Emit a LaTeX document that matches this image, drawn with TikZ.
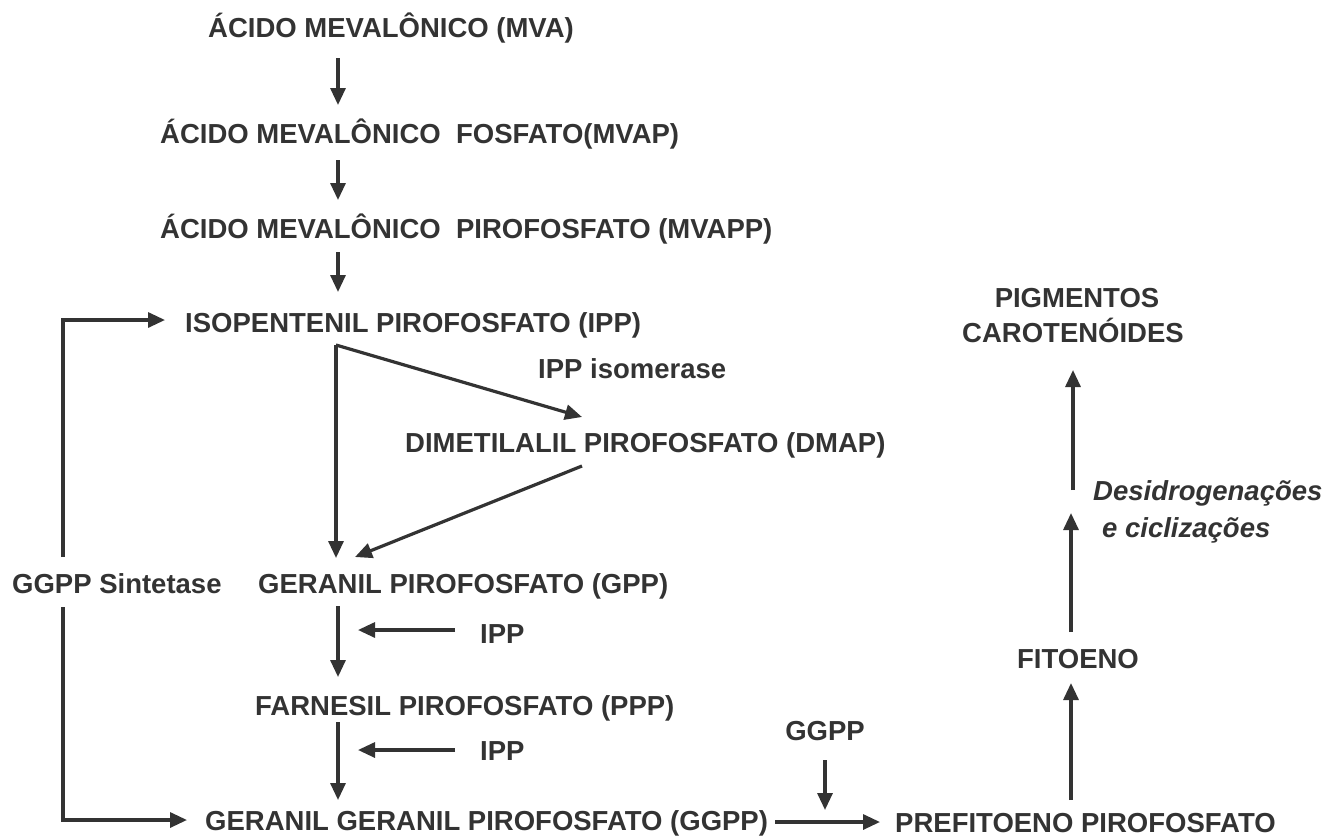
\documentclass[tikz,border=0pt]{standalone}
\usepackage{fontspec}
\setmainfont{Liberation Sans}
\usetikzlibrary{arrows.meta}
\definecolor{ink}{HTML}{333333}
\begin{document}
\begin{tikzpicture}[x=1pt,y=-1pt,
  lbl/.style={anchor=base west,inner sep=0pt,text=ink,font=\fontsize{27.5}{33}\selectfont\bfseries},
  clbl/.style={lbl,anchor=base},
  ilbl/.style={lbl,font=\fontsize{27.5}{33}\selectfont\bfseries\itshape},
  arr/.style={draw=ink,line width=3.2pt,-{Triangle[length=17pt,width=15pt]}},
  ln/.style={draw=ink,line width=3.2pt}]
\useasboundingbox (0,0) rectangle (1336,839);
% texts
\node[lbl] (mva) at (208,37) {ÁCIDO MEVALÔNICO (MVA)};
\node[lbl] (mvap) at (160,143) {ÁCIDO MEVALÔNICO\ \ FOSFATO(MVAP)};
\node[lbl] (mvapp) at (160,238) {ÁCIDO MEVALÔNICO\ \ PIROFOSFATO (MVAPP)};
\node[lbl] (ipp) at (185,332) {ISOPENTENIL PIROFOSFATO (IPP)};
\node[lbl] (iso) at (538,378) {IPP isomerase};
\node[lbl] (dmap) at (405,452) {DIMETILALIL PIROFOSFATO (DMAP)};
\node[lbl] (sint) at (12,593) {GGPP Sintetase};
\node[lbl] (gpp) at (258,593) {GERANIL PIROFOSFATO (GPP)};
\node[lbl] (ippa) at (480,643) {IPP};
\node[lbl] (farn) at (255,715) {FARNESIL PIROFOSFATO (PPP)};
\node[lbl] (ippb) at (480,760) {IPP};
\node[lbl] (ggpp) at (205,830) {GERANIL GERANIL PIROFOSFATO (GGPP)};
\node[clbl] (ggppl) at (825,740) {GGPP};
\node[lbl] (pref) at (895,832) {PREFITOENO PIROFOSFATO};
\node[clbl] (fito) at (1078,668) {FITOENO};
\node[ilbl] (desi) at (1093,500) {Desidrogenações};
\node[ilbl] (cicl) at (1102,537) {e ciclizações};
\node[clbl] (pig) at (1077,307) {PIGMENTOS};
\node[clbl] (car) at (1073,342) {CAROTENÓIDES};
% connector end points
\coordinate (a1s) at (338,58);  \coordinate (a1e) at (338,105);
\coordinate (a2s) at (338,160); \coordinate (a2e) at (338,200);
\coordinate (a3s) at (338,252); \coordinate (a3e) at (338,292);
\coordinate (lt1) at (63,557);  \coordinate (lt2) at (63,320); \coordinate (lt3) at (165,320);
\coordinate (br) at (336,345);  \coordinate (bre) at (336,558); \coordinate (bri) at (582,417);
\coordinate (dms) at (582,466); \coordinate (dme) at (355,557);
\coordinate (g1s) at (338,606); \coordinate (g1e) at (338,677);
\coordinate (i1s) at (455,630); \coordinate (i1e) at (358,630);
\coordinate (f1s) at (338,722); \coordinate (f1e) at (338,800);
\coordinate (i2s) at (455,750); \coordinate (i2e) at (358,750);
\coordinate (lb1) at (63,607);  \coordinate (lb2) at (63,820); \coordinate (lb3) at (187,820);
\coordinate (gps) at (775,822); \coordinate (gpe) at (880,822);
\coordinate (gls) at (825,760); \coordinate (gle) at (825,810);
\coordinate (p1s) at (1071,800); \coordinate (p1e) at (1071,683);
\coordinate (p2s) at (1071,632); \coordinate (p2e) at (1071,513);
\coordinate (p3s) at (1073,490); \coordinate (p3e) at (1073,370);
% connectors
\draw[arr] (a1s) -- (a1e);
\draw[arr] (a2s) -- (a2e);
\draw[arr] (a3s) -- (a3e);
\draw[arr] (lt1) -- (lt2) -- (lt3);
\draw[arr] (br) -- (bre);
\draw[arr] (br) -- (bri);
\draw[arr] (dms) -- (dme);
\draw[arr] (g1s) -- (g1e);
\draw[arr] (i1s) -- (i1e);
\draw[arr] (f1s) -- (f1e);
\draw[arr] (i2s) -- (i2e);
\draw[arr] (lb1) -- (lb2) -- (lb3);
\draw[arr] (gps) -- (gpe);
\draw[arr] (gls) -- (gle);
\draw[arr] (p1s) -- (p1e);
\draw[arr] (p2s) -- (p2e);
\draw[arr] (p3s) -- (p3e);
\end{tikzpicture}
\end{document}
